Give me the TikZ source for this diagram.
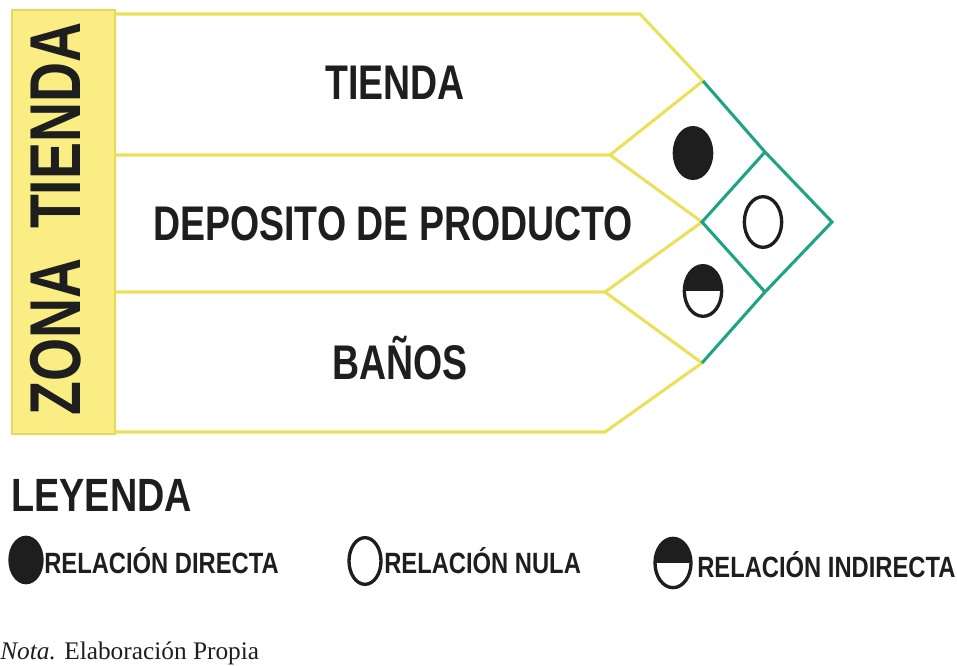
\documentclass[tikz,border=0pt]{standalone}
\usepackage{fontspec}
\setmainfont{Liberation Serif}
\newfontfamily\condfont{Liberation Sans}[FakeStretch=0.77]
\newfontfamily\keyfont{Liberation Sans}[FakeStretch=0.81]
\usetikzlibrary{shapes.geometric}
\definecolor{ztink}{HTML}{1E1E1E}
\definecolor{ztlane}{HTML}{EBE05A}
\definecolor{ztside}{HTML}{F9ED84}
\definecolor{ztsideline}{HTML}{E6D85A}
\definecolor{ztteal}{HTML}{1FA386}

\begin{document}
\begin{tikzpicture}[x=0.75pt, y=-0.75pt, text=ztink,
    lane/.style={draw=ztlane, line width=2.3pt, line join=miter},
    grid/.style={draw=ztteal, line width=2.3pt, line join=miter},
    rel/.style={ellipse, draw=ztink, line width=2.5pt, inner sep=0pt, minimum width=28pt, minimum height=38pt},
    directa/.style={rel, fill=ztink},
    nula/.style={rel, fill=white},
    indirecta/.style={rel, fill=white, path picture={
        \fill[ztink] (path picture bounding box.west) rectangle (path picture bounding box.north east);}},
    area/.style={inner sep=0pt, anchor=base, font=\condfont\bfseries\fontsize{36.5}{40}\selectfont},
    legend/.style={inner sep=0pt, anchor=base west, font=\keyfont\bfseries\fontsize{22}{26}\selectfont},
  ]
  \useasboundingbox (0,0) rectangle (957,666);

  % side band
  \draw[ztsideline, fill=ztside, line width=1pt] (12,10) rectangle (115,434);
  \node[rotate=90, inner sep=0pt, anchor=base, font=\condfont\bfseries\fontsize{54}{58}\selectfont]
    (zona) at (80,219) {ZONA\hspace{22pt}TIENDA};

  % tips of the three lanes
  \coordinate (tipa) at (703,81);
  \coordinate (tipb) at (702,222);
  \coordinate (tipc) at (702,363);
  \coordinate (mida) at (765,152);
  \coordinate (midb) at (765,292);
  \coordinate (apex) at (832,222);

  % lanes
  \draw[lane] (115,14) -- (640,14) -- (tipa) -- (610,155) -- (115,155);
  \draw[lane] (610,155) -- (tipb) -- (605,292) -- (115,292);
  \draw[lane] (605,292) -- (tipc) -- (605,432) -- (115,432);

  % relation matrix
  \draw[grid] (tipa) -- (mida) -- (apex) -- (midb) -- (tipc);
  \draw[grid] (mida) -- (tipb) -- (midb);

  \node[area] (tienda) at (395,100) {TIENDA};
  \node[area] (deposito) at (393,241) {DEPOSITO DE PRODUCTO};
  \node[area] (banos) at (400,380) {BAÑOS};

  % relations
  \node[directa] (rab) at (693,153) {};
  \node[nula] (rac) at (763,222) {};
  \node[indirecta] (rbc) at (703,291) {};

  % legend
  \node[inner sep=0pt, anchor=base west, font=\keyfont\bfseries\fontsize{35}{38}\selectfont]
    (leyenda) at (11,512) {LEYENDA};
  \node[directa, minimum width=24pt, minimum height=34pt] (kdir) at (26,560) {};
  \node[legend] (tdir) at (44,573) {RELACIÓN DIRECTA};
  \node[nula, minimum width=24pt, minimum height=35pt] (knul) at (365,561) {};
  \node[legend] (tnul) at (384,573) {RELACIÓN NULA};
  \node[indirecta, minimum width=27pt, minimum height=37pt] (kind) at (673,563) {};
  \node[legend] (tind) at (697,577) {RELACIÓN INDIRECTA};

  % note
  \node[inner sep=0pt, anchor=base west, font=\fontsize{19}{22}\selectfont]
    (nota) at (0,659) {\textit{Nota.} Elaboración Propia};
\end{tikzpicture}
\end{document}
